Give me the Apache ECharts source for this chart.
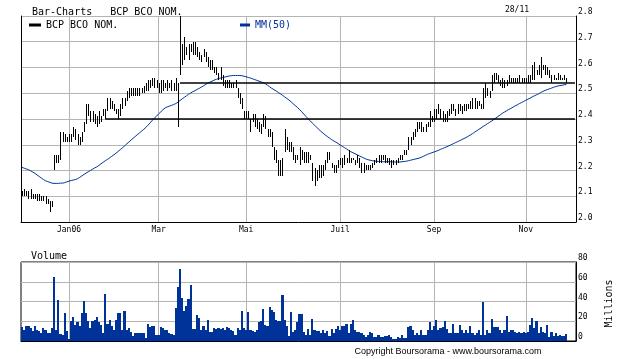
<!DOCTYPE html>
<html><head><meta charset="utf-8">
<script src="https://cdn.jsdelivr.net/npm/echarts@6/dist/echarts.min.js"></script>
<style>html,body{margin:0;padding:0;background:#fff}#c{width:620px;height:359px}</style>
</head><body><div id="c"></div>
<script>
// ---- data ----
const firstDay = '2005-12-01';
const lastDay = '2006-12-04';
const holidays = ['2006-04-14', '2006-04-17', '2006-05-01'];
const tickMonths = ['2006-01', '2006-03', '2006-05', '2006-07', '2006-09', '2006-11'];
const tickLabels = ['Jan06', 'Mar', 'Mai', 'Juil', 'Sep', 'Nov'];
const stockName = 'BCP BCO NOM.';
const maName = 'MM(50)';
const lastDateLabel = '28/11';

const lows = [
2.10,2.10,2.10,2.09,2.09,2.09,2.09,2.08,2.08,2.08,
2.08,2.07,2.07,2.04,2.06,2.20,2.23,2.23,2.24,2.31,
2.31,2.31,2.31,2.31,2.33,2.32,2.30,2.30,2.31,2.35,
2.38,2.41,2.39,2.39,2.38,2.37,2.38,2.39,2.41,2.40,
2.43,2.44,2.44,2.43,2.42,2.40,2.41,2.44,2.45,2.47,
2.48,2.49,2.49,2.49,2.49,2.49,2.50,2.50,2.51,2.51,
2.52,2.53,2.52,2.52,2.50,2.50,2.51,2.52,2.51,2.52,
2.51,2.51,2.51,2.37,2.57,2.61,2.63,2.65,2.63,2.66,
2.65,2.65,2.64,2.63,2.62,2.64,2.62,2.60,2.59,2.59,
2.58,2.57,2.55,2.55,2.53,2.52,2.52,2.52,2.52,2.52,
2.52,2.48,2.46,2.44,2.40,2.40,2.40,2.35,2.39,2.37,
2.36,2.35,2.34,2.37,2.36,2.33,2.33,2.29,2.24,2.23,
2.18,2.18,2.18,2.27,2.28,2.27,2.27,2.24,2.23,2.24,
2.22,2.24,2.23,2.23,2.23,2.24,2.16,2.14,2.16,2.17,
2.17,2.18,2.20,2.23,2.24,2.21,2.19,2.19,2.21,2.22,
2.21,2.22,2.23,2.23,2.23,2.24,2.22,2.23,2.21,2.19,
2.19,2.20,2.20,2.20,2.21,2.22,2.23,2.23,2.23,2.24,
2.23,2.23,2.22,2.21,2.22,2.22,2.23,2.24,2.24,2.26,
2.26,2.28,2.30,2.32,2.33,2.35,2.36,2.35,2.35,2.35,
2.37,2.37,2.39,2.39,2.40,2.42,2.40,2.39,2.39,2.39,
2.41,2.42,2.43,2.41,2.42,2.43,2.42,2.43,2.43,2.44,
2.44,2.44,2.44,2.44,2.45,2.44,2.44,2.48,2.49,2.48,
2.51,2.54,2.55,2.54,2.53,2.52,2.52,2.53,2.54,2.54,
2.54,2.54,2.54,2.54,2.54,2.54,2.54,2.54,2.54,2.55,
2.55,2.57,2.57,2.56,2.59,2.57,2.57,2.56,2.54,2.55,
2.55,2.55,2.55,2.55,2.55,2.54
];
const highs = [
2.12,2.13,2.12,2.12,2.13,2.11,2.11,2.11,2.11,2.10,
2.10,2.10,2.09,2.08,2.08,2.26,2.26,2.26,2.35,2.35,
2.34,2.33,2.34,2.34,2.37,2.36,2.34,2.33,2.35,2.39,
2.46,2.46,2.43,2.43,2.42,2.41,2.43,2.41,2.44,2.44,
2.48,2.48,2.47,2.46,2.44,2.44,2.46,2.48,2.48,2.51,
2.52,2.52,2.52,2.52,2.52,2.52,2.52,2.53,2.54,2.55,
2.55,2.56,2.56,2.55,2.54,2.55,2.55,2.54,2.55,2.54,
2.55,2.54,2.56,2.54,2.85,2.69,2.72,2.68,2.69,2.69,
2.70,2.70,2.68,2.66,2.65,2.67,2.66,2.64,2.63,2.63,
2.60,2.60,2.58,2.60,2.57,2.55,2.55,2.55,2.54,2.54,
2.55,2.52,2.50,2.48,2.43,2.43,2.43,2.40,2.42,2.42,
2.40,2.39,2.38,2.42,2.41,2.36,2.36,2.35,2.29,2.28,
2.24,2.24,2.25,2.36,2.33,2.31,2.31,2.29,2.26,2.26,
2.29,2.28,2.27,2.27,2.27,2.26,2.23,2.21,2.20,2.22,
2.22,2.22,2.24,2.27,2.27,2.23,2.22,2.22,2.24,2.25,
2.25,2.26,2.25,2.28,2.25,2.25,2.24,2.26,2.25,2.23,
2.23,2.22,2.22,2.22,2.23,2.24,2.25,2.26,2.26,2.26,
2.26,2.25,2.25,2.24,2.24,2.24,2.25,2.26,2.26,2.28,
2.28,2.33,2.33,2.35,2.36,2.39,2.39,2.39,2.37,2.38,
2.39,2.43,2.41,2.44,2.44,2.46,2.44,2.43,2.42,2.43,
2.44,2.46,2.46,2.44,2.46,2.46,2.45,2.46,2.46,2.46,
2.47,2.48,2.48,2.47,2.47,2.46,2.52,2.54,2.52,2.51,
2.57,2.58,2.58,2.57,2.55,2.56,2.55,2.55,2.57,2.56,
2.56,2.56,2.56,2.57,2.56,2.56,2.56,2.57,2.57,2.61,
2.62,2.59,2.61,2.64,2.61,2.61,2.60,2.59,2.57,2.57,
2.56,2.58,2.57,2.56,2.57,2.56
];
const ma50 = [
2.212,2.209,2.206,2.203,2.199,2.194,2.189,2.183,2.177,2.171,
2.165,2.160,2.157,2.154,2.151,2.150,2.150,2.150,2.151,2.151,
2.153,2.156,2.159,2.161,2.163,2.165,2.168,2.173,2.179,2.185,
2.190,2.195,2.200,2.205,2.210,2.214,2.220,2.226,2.232,2.238,
2.243,2.249,2.255,2.261,2.267,2.274,2.281,2.288,2.295,2.303,
2.310,2.318,2.325,2.332,2.339,2.346,2.353,2.360,2.367,2.376,
2.385,2.395,2.403,2.411,2.420,2.428,2.436,2.443,2.447,2.450,
2.453,2.456,2.460,2.465,2.472,2.478,2.484,2.490,2.496,2.501,
2.506,2.510,2.515,2.519,2.524,2.529,2.534,2.539,2.543,2.547,
2.551,2.554,2.557,2.559,2.561,2.563,2.565,2.567,2.568,2.569,
2.569,2.569,2.569,2.568,2.566,2.564,2.561,2.559,2.556,2.553,
2.550,2.547,2.544,2.541,2.537,2.531,2.525,2.519,2.514,2.509,
2.503,2.498,2.492,2.486,2.480,2.474,2.467,2.459,2.452,2.445,
2.437,2.428,2.419,2.410,2.401,2.393,2.384,2.376,2.368,2.360,
2.352,2.345,2.338,2.332,2.326,2.320,2.315,2.310,2.305,2.299,
2.294,2.289,2.284,2.278,2.273,2.269,2.265,2.261,2.257,2.253,
2.249,2.245,2.242,2.240,2.238,2.237,2.236,2.235,2.235,2.234,
2.234,2.234,2.234,2.234,2.233,2.233,2.233,2.233,2.234,2.235,
2.236,2.238,2.240,2.242,2.244,2.246,2.248,2.251,2.255,2.259,
2.263,2.266,2.269,2.272,2.275,2.278,2.282,2.285,2.289,2.292,
2.296,2.300,2.304,2.308,2.312,2.316,2.320,2.324,2.328,2.333,
2.338,2.343,2.349,2.354,2.360,2.365,2.371,2.376,2.382,2.387,
2.392,2.398,2.404,2.410,2.416,2.422,2.427,2.432,2.437,2.441,
2.446,2.451,2.455,2.460,2.464,2.468,2.473,2.477,2.481,2.486,
2.490,2.494,2.498,2.503,2.507,2.511,2.514,2.517,2.520,2.523,
2.526,2.528,2.530,2.531,2.533,2.534
];
const volumes = [
14,11,15,15,13,10,15,11,10,8,
13,11,8,8,13,65,11,42,7,6,
28,10,2,20,24,16,19,15,28,41,
28,20,13,20,21,24,19,16,8,48,
17,21,15,11,21,28,28,11,30,11,
13,9,5,8,8,8,8,8,3,17,
14,15,15,6,6,14,13,11,11,8,
7,6,33,55,73,44,30,35,43,57,
12,12,26,23,11,15,11,21,9,9,
13,12,13,12,13,11,14,13,11,10,
6,13,11,30,13,11,29,11,10,9,
11,19,20,32,16,15,34,31,29,21,
20,20,47,21,15,5,29,9,11,19,
27,27,9,6,12,6,22,11,10,10,
8,11,8,10,5,12,8,12,15,11,
15,15,17,8,17,21,11,9,9,8,
6,4,6,9,8,4,4,6,4,4,
5,5,6,4,2,2,4,3,6,3,
3,14,15,11,6,8,6,11,6,6,
11,19,11,15,21,11,13,14,20,12,
8,8,17,8,8,16,11,8,11,8,
15,8,6,8,11,6,39,6,11,8,
22,14,14,14,11,8,11,25,9,11,
11,9,8,9,8,9,8,9,16,23,
13,20,8,14,9,8,16,4,9,5,
8,5,6,5,5,7
];
const supportLevels = [2.40, 2.54];
const supportStartIdx = [39, 74];

// ---- categories: trading days ----
const categories = [];
for (let t = Date.parse(firstDay + 'T00:00:00Z'); ; t += 86400000) {
  const d = new Date(t);
  const s = d.toISOString().slice(0, 10);
  if (s > lastDay) break;
  const wd = d.getUTCDay();
  if (wd === 0 || wd === 6 || holidays.includes(s)) continue;
  categories.push(s);
}
function isTick(i) {
  if (i <= 0 || i >= categories.length) return false;
  const m = categories[i].slice(0, 7);
  return m !== categories[i - 1].slice(0, 7) && tickMonths.includes(m);
}
function tickLabel(v) {
  const k = tickMonths.indexOf(String(v).slice(0, 7));
  return k >= 0 ? tickLabels[k] : '';
}

const MONO = 'DejaVu Sans Mono';
const GRID_C = '#b4b4b4';
const BLUE = '#003399';

const chart = echarts.init(document.getElementById('c'), null, {renderer: 'canvas'});
const axisLbl = {fontFamily: MONO, fontSize: 8, color: '#000'};
const option = {
  animation: false,
  backgroundColor: '#fff',
  grid: [
    {left: 21, top: 16, width: 555, height: 206, show: false},
    {left: 21, top: 262, width: 555, height: 79, show: true, borderColor: '#000', borderWidth: 1, backgroundColor: 'transparent'}
  ],
  legend: [
    {left: 29, top: 20, padding: 0, itemWidth: 12, itemHeight: 3, selectedMode: false,
     textStyle: {fontFamily: MONO, fontSize: 10, color: '#000'},
     data: [{name: stockName, icon: 'rect'}]},
    {left: 240, top: 20, padding: 0, itemWidth: 10, itemHeight: 3, selectedMode: false,
     textStyle: {fontFamily: MONO, fontSize: 10, color: BLUE},
     data: [{name: maName, icon: 'rect'}]}
  ],
  xAxis: [
    {type: 'category', gridIndex: 0, data: categories, boundaryGap: true,
     axisLine: {show: true, lineStyle: {color: '#000', width: 1}}, axisTick: {show: false},
     axisLabel: Object.assign({interval: (i) => isTick(i), formatter: (v) => tickLabel(v), margin: 4}, axisLbl),
     splitLine: {show: true, interval: (i) => isTick(i), alignWithLabel: true, lineStyle: {color: GRID_C, width: 1}}},
    {type: 'category', gridIndex: 1, data: categories, boundaryGap: true,
     axisLine: {show: true, lineStyle: {color: '#000', width: 1}}, axisTick: {show: false},
     axisLabel: {show: false},
     splitLine: {show: true, interval: (i) => isTick(i), alignWithLabel: true, lineStyle: {color: GRID_C, width: 1}}}
  ],
  yAxis: [
    {type: 'value', gridIndex: 0, position: 'right', min: 2.0, max: 2.8, interval: 0.1,
     axisLine: {show: true, lineStyle: {color: '#000', width: 1}}, axisTick: {show: false},
     axisLabel: Object.assign({formatter: (v) => v.toFixed(1), margin: 2, verticalAlign: 'bottom', showMinLabel: true, showMaxLabel: true}, axisLbl),
     splitLine: {show: true, lineStyle: {color: GRID_C, width: 1}}},
    {type: 'value', gridIndex: 1, position: 'right', min: 0, max: 80, interval: 20,
     axisLine: {show: true, lineStyle: {color: '#000', width: 1}}, axisTick: {show: false},
     axisLabel: Object.assign({margin: 2, verticalAlign: 'bottom', showMinLabel: true, showMaxLabel: true}, axisLbl),
     splitLine: {show: true, lineStyle: {color: GRID_C, width: 1}}},
    {type: 'value', gridIndex: 0, position: 'left', min: 2.0, max: 2.8,
     axisLine: {show: true, lineStyle: {color: '#000', width: 1}}, axisTick: {show: false},
     axisLabel: {show: false}, splitLine: {show: false}}
  ],
  series: [
    {name: maName, type: 'line', xAxisIndex: 0, yAxisIndex: 0, data: ma50,
     showSymbol: false, symbol: 'none', color: BLUE, itemStyle: {color: BLUE},
     lineStyle: {color: BLUE, width: 1}, z: 2},
    {name: stockName, type: 'custom', xAxisIndex: 0, yAxisIndex: 0, clip: true,
     itemStyle: {color: '#000'}, color: '#000', z: 3,
     data: lows.map((l, i) => [i, l, highs[i]]),
     encode: {x: 0, y: [1, 2]},
     renderItem: function (params, api) {
       const p1 = api.coord([api.value(0), api.value(1)]);
       const p2 = api.coord([api.value(0), api.value(2)]);
       const x = Math.round(p1[0]) + 0.5;
       let y1 = Math.round(p1[1]), y2 = Math.round(p2[1]);
       if (y1 - y2 < 2) y2 = y1 - 2;
       return {type: 'line', shape: {x1: x, y1: y1, x2: x, y2: y2},
               style: {stroke: '#000', lineWidth: 1}};
     },
     markLine: {silent: true, symbol: 'none', label: {show: false},
       lineStyle: {color: '#000', width: 1.5, type: 'solid'},
       data: supportLevels.map((lv, k) => [{coord: [supportStartIdx[k], lv]}, {coord: [categories.length - 1, lv]}])}},
    {name: 'Volume', type: 'custom', xAxisIndex: 1, yAxisIndex: 1, clip: true,
     itemStyle: {color: BLUE}, z: 2,
     data: volumes.map((v, i) => [i, v]),
     encode: {x: 0, y: 1},
     renderItem: function (params, api) {
       const top = api.coord([api.value(0), api.value(1)]);
       const base = api.coord([api.value(0), 0]);
       const w = api.size([1, 0])[0];
       const x0 = Math.round(top[0] - w / 2), x1 = Math.round(top[0] + w / 2);
       const y0 = Math.round(top[1]), yb = Math.round(base[1]);
       return {type: 'rect', shape: {x: x0, y: y0, width: Math.max(1, x1 - x0), height: yb - y0},
               style: {fill: BLUE}};
     }}
  ],
  graphic: [
    {type: 'text', x: 32, y: 12.5, style: {text: 'Bar-Charts   ' + stockName, font: '10px "DejaVu Sans Mono"', fill: '#000', textAlign: 'left', textVerticalAlign: 'middle'}},
    {type: 'text', x: 517, y: 9.5, style: {text: lastDateLabel, font: '8px "DejaVu Sans Mono"', fill: '#000', textAlign: 'center', textVerticalAlign: 'middle'}},
    {type: 'text', x: 31, y: 256.5, style: {text: 'Volume', font: '10px "DejaVu Sans Mono"', fill: '#000', textAlign: 'left', textVerticalAlign: 'middle'}},
    {type: 'text', x: 609, y: 303.5, rotation: Math.PI / 2, style: {text: 'Millions', font: '10px "DejaVu Sans Mono"', fill: '#000', textAlign: 'center', textVerticalAlign: 'middle'}},
    {type: 'text', x: 448, y: 352, style: {text: 'Copyright Boursorama - www.boursorama.com', font: '9px "Liberation Sans"', fill: '#000', textAlign: 'center', textVerticalAlign: 'middle'}}
  ]
};
chart.setOption(option);
</script>
</body></html>
